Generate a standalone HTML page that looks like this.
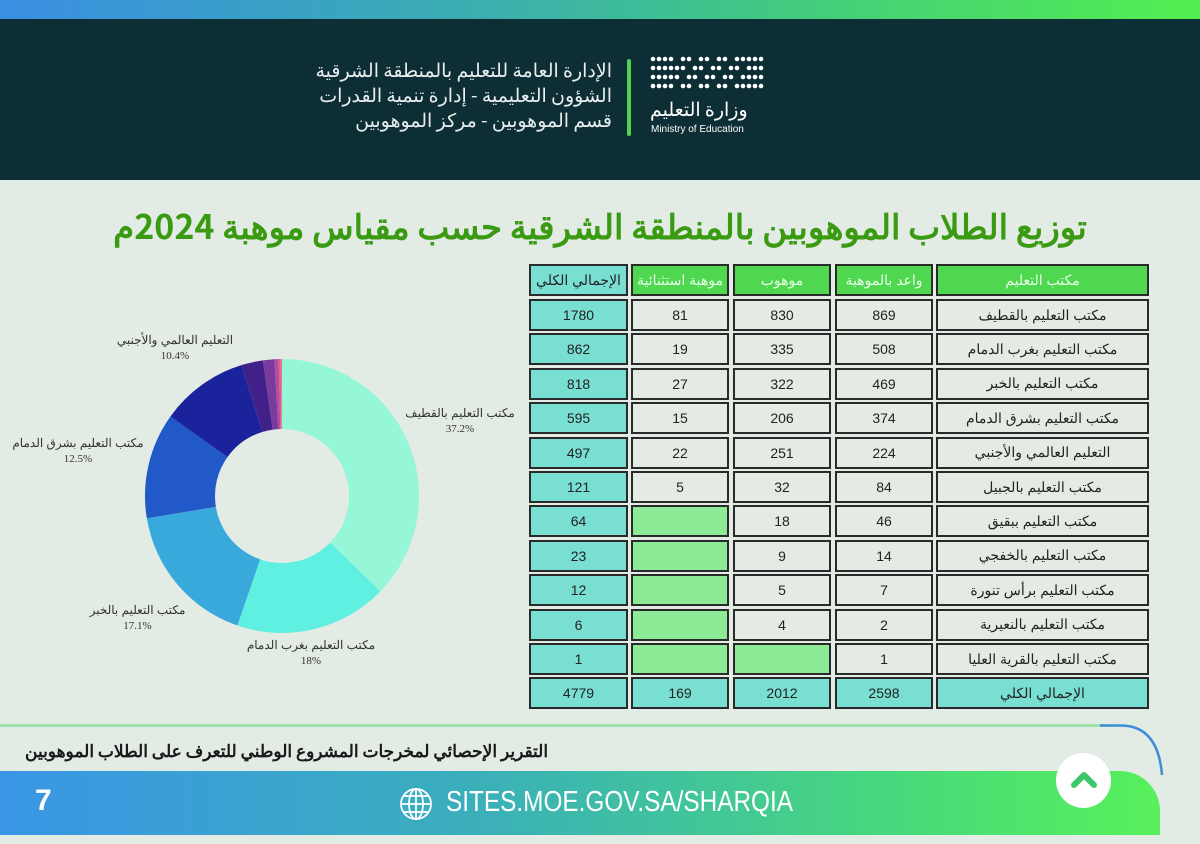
<!DOCTYPE html>
<html><head><meta charset="utf-8">
<style>
*{margin:0;padding:0;box-sizing:border-box}
body{width:1200px;height:844px;background:#e3ebe5;position:relative;overflow:hidden;font-family:"Liberation Sans","Noto Sans CJK SC",sans-serif}
.topbar{position:absolute;left:0;top:0;width:1200px;height:19px;background:linear-gradient(90deg,#3b8fe3,#3aaeb0 40%,#45cf78 70%,#52ef50)}
.hdr{position:absolute;left:0;top:19px;width:1200px;height:161px;background:#0e2e35}
.hdr .t{position:absolute;right:588px;top:38px;color:#e8eeee;font-size:19px;line-height:25px;text-align:right;direction:rtl;font-family:"Noto Sans CJK SC",sans-serif;white-space:nowrap}
.vbar{position:absolute;left:627px;top:40px;width:4px;height:77px;background:#4fd44f;border-radius:2px}
.title{position:absolute;left:0;width:1200px;top:200px;text-align:center;direction:rtl;color:#3a9a12;font-size:34px;font-weight:bold;font-family:"Noto Sans CJK SC",sans-serif;white-space:nowrap}
.cell{position:absolute;border:2px solid #2a2a2a;background:#e4ebe5;font-size:14px;color:#222;display:flex;align-items:center;justify-content:center;direction:rtl;font-family:"Liberation Sans","Noto Sans CJK SC",sans-serif}
.lbl{position:absolute;font-size:12px;color:#333;text-align:center;direction:rtl;line-height:16px;font-family:"Liberation Sans","Noto Sans CJK SC",sans-serif}
.lbl span{font-family:"Liberation Serif",serif;font-size:11px;display:block;direction:ltr}
.foot{position:absolute;left:0;top:771px;width:1160px;height:64px;background:linear-gradient(90deg,#3a96e6,#3aaebc 40%,#47d67f 75%,#58f05a);border-top-right-radius:40px}
</style></head><body>
<div class="topbar"></div>
<div class="hdr">
 <div class="t">الإدارة العامة للتعليم بالمنطقة الشرقية<br>الشؤون التعليمية - إدارة تنمية القدرات<br>قسم الموهوبين - مركز الموهوبين</div>
 <div class="vbar"></div>
 <svg style="position:absolute;left:650px;top:37px" width="115" height="40">
  <g fill="#fff" id="dots"></g>
 </svg>
 <div style="position:absolute;left:650px;top:76px;color:#fff;font-size:19px;font-family:'Noto Sans CJK SC',sans-serif;direction:rtl;white-space:nowrap;width:115px;text-align:left">وزارة التعليم</div>
 <div style="position:absolute;left:651px;top:105px;color:#fff;font-size:10px;white-space:nowrap">Ministry of Education</div>
</div>
<div class="title">توزيع الطلاب الموهوبين بالمنطقة الشرقية حسب مقياس موهبة 2024م</div>

<svg style="position:absolute;left:0;top:0" width="520" height="720" id="donut"></svg>
<div class="lbl" style="left:400px;top:405px;width:120px">مكتب التعليم بالقطيف<span>37.2%</span></div>
<div class="lbl" style="left:236px;top:637px;width:150px">مكتب التعليم بغرب الدمام<span>18%</span></div>
<div class="lbl" style="left:80px;top:602px;width:115px">مكتب التعليم بالخبر<span>17.1%</span></div>
<div class="lbl" style="left:8px;top:435px;width:140px">مكتب التعليم بشرق الدمام<span>12.5%</span></div>
<div class="lbl" style="left:110px;top:332px;width:130px">التعليم العالمي والأجنبي<span>10.4%</span></div>

<div id="tbl"></div>

<div style="position:absolute;left:0;top:724px;width:1110px;height:3px;background:#9fe0b0"></div>
<svg style="position:absolute;left:1100px;top:720px" width="100" height="60"><path d="M0 5.5 H20 Q58 5 62 55" stroke="#3b8fd8" stroke-width="2.5" fill="none"/></svg>
<div style="position:absolute;left:25px;top:737px;font-size:17px;font-weight:bold;color:#1a1a1a;direction:rtl;font-family:'Noto Sans CJK SC',sans-serif;white-space:nowrap">التقرير الإحصائي لمخرجات المشروع الوطني للتعرف على الطلاب الموهوبين</div>
<div class="foot"></div>
<div style="position:absolute;left:35px;top:784px;color:#fff;font-size:30px;font-weight:bold">7</div>
<svg style="position:absolute;left:398px;top:786px" width="36" height="36"><g stroke="#fff" stroke-width="1.8" fill="none"><circle cx="18" cy="18" r="15"/><ellipse cx="18" cy="18" rx="7" ry="15"/><line x1="18" y1="3" x2="18" y2="33"/><line x1="3" y1="18" x2="33" y2="18"/><line x1="6" y1="10" x2="30" y2="10"/><line x1="6" y1="26" x2="30" y2="26"/></g></svg>
<div style="position:absolute;left:446px;top:786px;color:#fff;font-size:29px;transform:scaleX(0.84);transform-origin:left top;white-space:nowrap">SITES.MOE.GOV.SA/SHARQIA</div>
<div style="position:absolute;left:1056px;top:753px;width:55px;height:55px;border-radius:50%;background:#fff"></div>
<svg style="position:absolute;left:1068px;top:765px" width="32" height="30"><path d="M6 20 L16 10 L26 20" stroke="#3cc86a" stroke-width="6" fill="none" stroke-linecap="round" stroke-linejoin="round"/></svg>

<script>
var g=document.getElementById('dots'),s='';
for(var r=0;r<4;r++)for(var c=0;c<19;c++){ if((c+r)%3==1&&c>3&&c<16)continue; s+='<circle cx="'+(3+c*6)+'" cy="'+(3+r*9)+'" r="2.3"/>';}
g.innerHTML=s;
var vals=[1780,862,818,595,497,121,64,23,12,6,1],tot=4779;
var cols=['#95f6d8','#5ff0e2','#39a8db','#2159c9','#1a239b','#41208a','#7a3c9c','#b34ca4','#e25c8c','#f06a80','#f07070'];
var cx=282,cy=496,R=137,ri=67,a=-Math.PI/2,h='';
function p(rr,t){return (cx+rr*Math.cos(t)).toFixed(2)+' '+(cy+rr*Math.sin(t)).toFixed(2)}
for(var i=0;i<vals.length;i++){var b=a+vals[i]/tot*2*Math.PI,l=(b-a)>Math.PI?1:0;
h+='<path fill="'+cols[i]+'" d="M'+p(R,a)+' A'+R+' '+R+' 0 '+l+' 1 '+p(R,b)+' L'+p(ri,b)+' A'+ri+' '+ri+' 0 '+l+' 0 '+p(ri,a)+'Z"/>';a=b;}
document.getElementById('donut').innerHTML=h;
var X=[[529,99],[631,98],[733,98],[835,98],[936,213]];
var head=['الإجمالي الكلي','موهبة استثنائية','موهوب','واعد بالموهبة','مكتب التعليم'];
var rows=[['1780','81','830','869','مكتب التعليم بالقطيف'],['862','19','335','508','مكتب التعليم بغرب الدمام'],['818','27','322','469','مكتب التعليم بالخبر'],['595','15','206','374','مكتب التعليم بشرق الدمام'],['497','22','251','224','التعليم العالمي والأجنبي'],['121','5','32','84','مكتب التعليم بالجبيل'],['64','','18','46','مكتب التعليم ببقيق'],['23','','9','14','مكتب التعليم بالخفجي'],['12','','5','7','مكتب التعليم برأس تنورة'],['6','','4','2','مكتب التعليم بالنعيرية'],['1','','','1','مكتب التعليم بالقرية العليا'],['4779','169','2012','2598','الإجمالي الكلي']];
var t='';
function cell(x,y,w,bg,txt,col){t+='<div class="cell" style="left:'+x+'px;top:'+y+'px;width:'+w+'px;height:32px;background:'+bg+';color:'+col+'">'+txt+'</div>';}
for(var j=0;j<5;j++)cell(X[j][0],264,X[j][1],j==0?'#79dfd3':'#4fd84f',head[j],j==0?'#222':'#eaffea');
for(var r=0;r<rows.length;r++){var y=299+r*34.4;
 for(var j=0;j<5;j++){var bg='#e4ebe5';if(j==0||r==11)bg='#79dfd3';if(rows[r][j]===''&&r<11)bg='#8deb97';cell(X[j][0],y,X[j][1],bg,rows[r][j],'#222');}}
document.getElementById('tbl').innerHTML=t;
</script>
</body></html>
